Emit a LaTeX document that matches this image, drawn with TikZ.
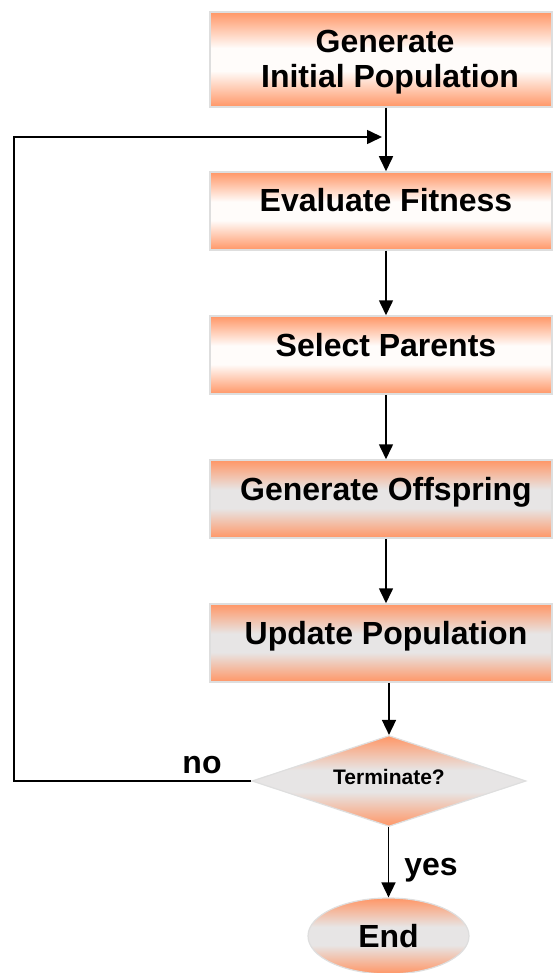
\documentclass[tikz,border=0pt]{standalone}
\usepackage{fontspec}
\setmainfont{Liberation Sans}
\usetikzlibrary{shapes.geometric,arrows.meta}
\definecolor{orng}{RGB}{255,150,102}
\definecolor{midw}{RGB}{255,252,250}
\definecolor{midg}{RGB}{231,229,229}
\definecolor{edgec}{RGB}{222,222,222}
\pgfdeclareverticalshading{shw}{100bp}{color(0bp)=(orng); color(25bp)=(orng); color(44bp)=(midw); color(56bp)=(midw); color(75bp)=(orng); color(100bp)=(orng)}
\pgfdeclareverticalshading{shg}{100bp}{color(0bp)=(orng); color(25bp)=(orng); color(44bp)=(midg); color(56bp)=(midg); color(75bp)=(orng); color(100bp)=(orng)}
\begin{document}
\begin{tikzpicture}[x=1pt,y=-1pt,
  bigfont/.style={font=\fontsize{32}{35}\selectfont\bfseries},
  boxbase/.style={rectangle, draw=edgec, line width=1.5pt, minimum width=342pt, inner sep=0pt, bigfont, shade},
  boxw/.style={boxbase, shading=shw},
  boxg/.style={boxbase, shading=shg},
  onel/.style={minimum height=78pt, text height=22.5pt, text depth=20.5pt, execute at begin node={\hspace*{10pt}}},
  arr/.style={line width=1.6pt, -{Triangle[width=14pt,length=15pt]}},
  lbl/.style={bigfont, anchor=base, inner sep=0pt},
]
\useasboundingbox (0,0) rectangle (553,973);

\node[boxw, align=center, minimum height=95pt, text height=56.5pt, text depth=0pt] (b1) at (381,59.5)
  {\hspace*{8pt}Generate\\\hspace*{18pt}Initial Population};
\node[boxw, onel] (b2) at (381,211) {Evaluate Fitness};
\node[boxw, onel] (b3) at (381,355) {Select Parents};
\node[boxg, onel] (b4) at (381,499) {Generate Offspring};
\node[boxg, onel] (b5) at (381,643) {Update Population};

\node[diamond, shape aspect=3.01, shade, shading=shg, draw=edgec, line width=1.2pt, minimum width=274pt, minimum height=91pt,
      inner sep=0pt, text height=16pt, text depth=10pt, font=\fontsize{21}{24}\selectfont\bfseries]
      (dia) at (389,781) {Terminate?};
\node[ellipse, shade, shading=shg, draw=edgec, line width=1.2pt, minimum width=161pt, minimum height=76pt,
      inner sep=0pt, text height=22.5pt, text depth=0pt, bigfont] (end) at (388.5,936) {End};

\node[lbl] (no) at (202,773) {no};
\node[lbl] (yes) at (431,875) {yes};

\coordinate (ax) at (386,0);
\coordinate (lefttop) at (14,137);
\coordinate (loopend) at (382,137);

\draw[arr] (b1.south -| ax) -- (b2.north -| ax);
\draw[arr] (b2.south -| ax) -- (b3.north -| ax);
\draw[arr] (b3.south -| ax) -- (b4.north -| ax);
\draw[arr] (b4.south -| ax) -- (b5.north -| ax);
\draw[arr] (b5.south -| dia.north) -- (dia.north);
\draw[arr] (dia.south -| end.north) -- (end.north);
\draw[arr] (dia.west) -| (lefttop) -- (loopend);
\end{tikzpicture}
\end{document}
